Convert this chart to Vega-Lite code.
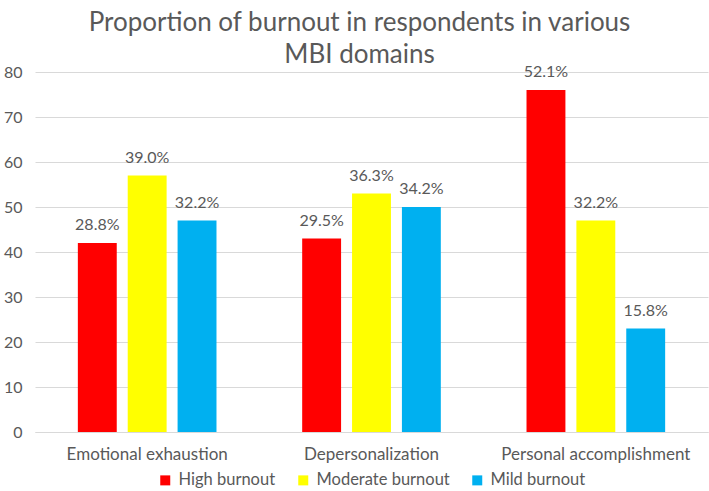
{
  "$schema": "https://vega.github.io/schema/vega-lite/v6.json",
  "width": 673,
  "height": 360,
  "autosize": {"type": "none"},
  "padding": {"left": 35, "top": 72, "right": 1, "bottom": 59},
  "background": "white",
  "title": {
    "text": ["Proportion of burnout in respondents in various", "MBI domains"],
    "font": "Lato",
    "fontSize": 26,
    "fontWeight": "normal",
    "color": "#595959",
    "lineHeight": 32,
    "offset": -4,
    "dx": -12
  },
  "data": {
    "values": [
      {"domain": "Emotional exhaustion", "level": "High burnout", "value": 42, "label": "28.8%"},
      {"domain": "Emotional exhaustion", "level": "Moderate burnout", "value": 57, "label": "39.0%"},
      {"domain": "Emotional exhaustion", "level": "Mild burnout", "value": 47, "label": "32.2%"},
      {"domain": "Depersonalization", "level": "High burnout", "value": 43, "label": "29.5%"},
      {"domain": "Depersonalization", "level": "Moderate burnout", "value": 53, "label": "36.3%"},
      {"domain": "Depersonalization", "level": "Mild burnout", "value": 50, "label": "34.2%"},
      {"domain": "Personal accomplishment", "level": "High burnout", "value": 76, "label": "52.1%"},
      {"domain": "Personal accomplishment", "level": "Moderate burnout", "value": 47, "label": "32.2%"},
      {"domain": "Personal accomplishment", "level": "Mild burnout", "value": 23, "label": "15.8%"}
    ]
  },
  "encoding": {
    "x": {
      "field": "domain",
      "type": "nominal",
      "sort": ["Emotional exhaustion", "Depersonalization", "Personal accomplishment"],
      "scale": {"paddingInner": 0.382, "paddingOuter": 0.191},
      "axis": {
        "title": null,
        "labelAngle": 0,
        "ticks": false,
        "domainColor": "#d9d9d9",
        "labelFont": "Lato",
        "labelFontSize": 17,
        "labelColor": "#595959",
        "labelPadding": 14,
        "labelLimit": 0
      }
    },
    "xOffset": {
      "field": "level",
      "type": "nominal",
      "sort": ["High burnout", "Moderate burnout", "Mild burnout"],
      "scale": {"paddingInner": 0.22, "paddingOuter": 0}
    },
    "y": {
      "field": "value",
      "type": "quantitative",
      "scale": {"domain": [0, 80]},
      "axis": {
        "title": null,
        "values": [0, 10, 20, 30, 40, 50, 60, 70, 80],
        "domain": false,
        "ticks": false,
        "gridColor": "#d9d9d9",
        "labelFont": "Lato",
        "labelFontSize": 16,
        "labelColor": "#595959",
        "labelPadding": 13
      }
    }
  },
  "layer": [
    {
      "mark": {"type": "bar"},
      "encoding": {
        "color": {
          "field": "level",
          "type": "nominal",
          "sort": ["High burnout", "Moderate burnout", "Mild burnout"],
          "scale": {
            "domain": ["High burnout", "Moderate burnout", "Mild burnout"],
            "range": ["#ff0000", "#ffff00", "#00b0f0"]
          },
          "legend": {
            "title": null,
            "orient": "bottom",
            "direction": "horizontal",
            "symbolType": "square",
            "symbolSize": 100,
            "symbolStrokeWidth": 0,
            "labelFont": "Lato",
            "labelFontSize": 16.5,
            "labelColor": "#595959",
            "labelOffset": 5,
            "columnPadding": 19,
            "offset": 10
          }
        }
      }
    },
    {
      "mark": {
        "type": "text",
        "font": "Lato",
        "fontSize": 16,
        "color": "#595959",
        "baseline": "alphabetic",
        "dy": -13
      },
      "encoding": {
        "text": {"field": "label"}
      }
    }
  ],
  "config": {
    "view": {"stroke": null},
    "legend": {"layout": {"bottom": {"anchor": "middle"}}}
  }
}
